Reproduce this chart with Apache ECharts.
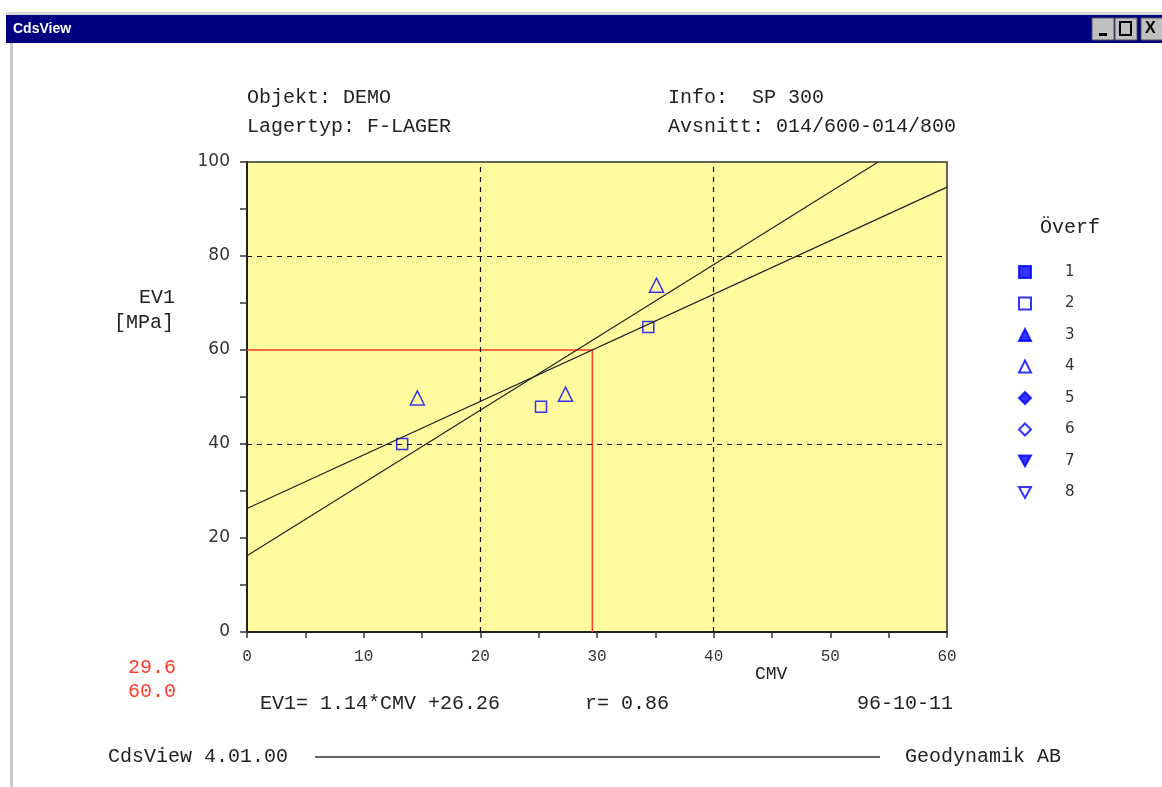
<!DOCTYPE html>
<html>
<head>
<meta charset="utf-8">
<title>CdsView</title>
<script src="https://cdn.jsdelivr.net/npm/echarts@6/dist/echarts.min.js"></script>
<style>
  html, body { margin: 0; padding: 0; background: #fff; }
  #chart { width: 1162px; height: 787px; }
</style>
</head>
<body>
<div id="chart"></div>
<script>
// measured points (CMV, EV1)
const openSquares = [[13.3, 40.0], [25.2, 47.9], [34.4, 64.9]];
const openTriangles = [[14.6, 49.8], [27.3, 50.6], [35.1, 73.8]];
// regression lines
const regLine1 = [[0, 26.26], [60, 94.66]];
const regLine2 = [[0, 16.2], [54.1, 100]];
// red marker path (read-off point)
const readOff = [[0, 60], [29.6, 60], [29.6, 0]];
const gridX = [20, 40];
const gridY = [40, 80];
const legendNames = ['1', '2', '3', '4', '5', '6', '7', '8'];

const MONO = '"Liberation Mono", "DejaVu Sans Mono", monospace';
const SANS = '"DejaVu Sans", "Liberation Sans", sans-serif';
const BLUE = '#0000ff';
const downTri = 'path://M0,0 L10,0 L5,9 Z';

const chart = echarts.init(document.getElementById('chart'));

function txt(x, y, s, opts) {
  return {
    type: 'text', x: x, y: y, silent: true,
    style: Object.assign({
      text: s, fill: '#222', font: '20px ' + MONO,
      textVerticalAlign: 'middle'
    }, opts || {})
  };
}

const solid = (c) => ({ color: c, borderColor: BLUE, borderWidth: 1 });
const hollow = { color: 'transparent', borderColor: BLUE, borderWidth: 1.5 };
const icons = ['rect', 'rect', 'triangle', 'triangle', 'diamond', 'diamond', downTri, downTri];

const option = {
  animation: false,
  backgroundColor: '#fff',
  grid: {
    left: 247, top: 162, right: 215, bottom: 155,
    show: true, backgroundColor: '#fffb9e',
    borderColor: '#333', borderWidth: 1.5
  },
  xAxis: {
    type: 'value', min: 0, max: 60, interval: 5,
    axisLine: { show: true, onZero: false, lineStyle: { color: '#222', width: 2 } },
    axisTick: { show: true, length: 6, lineStyle: { color: '#333', width: 1.5 } },
    axisLabel: {
      margin: 17, color: '#333', fontFamily: MONO, fontSize: 16,
      formatter: v => (v % 10 === 0 ? String(v) : '')
    },
    splitLine: { show: false }
  },
  yAxis: {
    type: 'value', min: 0, max: 100, interval: 10,
    axisLine: { show: true, onZero: false, lineStyle: { color: '#222', width: 2 } },
    axisTick: { show: true, length: 7, lineStyle: { color: '#333', width: 1.5 } },
    axisLabel: {
      margin: 17, color: '#333', fontFamily: SANS, fontSize: 17,
      formatter: v => (v % 20 === 0 ? String(v) : '')
    },
    splitLine: { show: false }
  },
  legend: {
    orient: 'vertical', left: 1013, top: 258,
    itemWidth: 12, itemHeight: 12, itemGap: 13.5,
    selectedMode: false,
    data: legendNames.map((n, i) => ({ name: n, icon: icons[i] })),
    textStyle: {
      fontFamily: SANS, fontSize: 15, color: '#333', lineHeight: 18,
      padding: [0, 0, 0, 29]
    }
  },
  series: [
    {
      name: 'grid', type: 'line', data: [], silent: true,
      markLine: {
        symbol: 'none', silent: true, label: { show: false },
        lineStyle: { color: '#111', type: [5, 5], width: 1.2 },
        data: gridX.map(v => ({ xAxis: v })).concat(gridY.map(v => ({ yAxis: v })))
      }
    },
    {
      name: 'readoff', type: 'line', data: readOff, showSymbol: false, silent: true,
      lineStyle: { color: '#ff3a2a', width: 1.5 }
    },
    {
      name: 'reg1', type: 'line', data: regLine1, showSymbol: false, silent: true,
      lineStyle: { color: '#222', width: 1.2 }
    },
    {
      name: 'reg2', type: 'line', data: regLine2, showSymbol: false, silent: true,
      lineStyle: { color: '#222', width: 1.2 }
    },
    { name: '1', type: 'scatter', symbol: icons[0], symbolSize: 11, data: [], itemStyle: solid(BLUE) },
    { name: '2', type: 'scatter', symbol: icons[1], symbolSize: 11, data: openSquares, itemStyle: hollow },
    { name: '3', type: 'scatter', symbol: icons[2], symbolSize: 13, data: [], itemStyle: solid(BLUE) },
    { name: '4', type: 'scatter', symbol: icons[3], symbolSize: 14, data: openTriangles, itemStyle: hollow },
    { name: '5', type: 'scatter', symbol: icons[4], symbolSize: 13, data: [], itemStyle: solid(BLUE) },
    { name: '6', type: 'scatter', symbol: icons[5], symbolSize: 13, data: [], itemStyle: hollow },
    { name: '7', type: 'scatter', symbol: icons[6], symbolSize: 13, data: [], itemStyle: solid(BLUE) },
    { name: '8', type: 'scatter', symbol: icons[7], symbolSize: 13, data: [], itemStyle: hollow }
  ],
  graphic: [
    // window frame
    { type: 'rect', shape: { x: 6, y: 12, width: 1160, height: 3 }, style: { fill: '#d8d8d8' }, silent: true },
    { type: 'rect', shape: { x: 6, y: 15, width: 1160, height: 28 }, style: { fill: '#000080' }, silent: true },
    { type: 'rect', shape: { x: 10, y: 43, width: 3, height: 750 }, style: { fill: '#c8c8c8' }, silent: true },
    txt(13, 29, 'CdsView', { fill: '#fff', font: 'bold 14px "Liberation Sans Narrow", "Liberation Sans", sans-serif' }),
    { type: 'rect', shape: { x: 1092, y: 18, width: 22, height: 22 }, style: { fill: '#c0c0c0', stroke: '#555', lineWidth: 1 }, silent: true },
    { type: 'rect', shape: { x: 1099, y: 33, width: 8, height: 3 }, style: { fill: '#000' }, silent: true },
    { type: 'rect', shape: { x: 1115, y: 18, width: 22, height: 22 }, style: { fill: '#c0c0c0', stroke: '#555', lineWidth: 1 }, silent: true },
    { type: 'rect', shape: { x: 1120, y: 22, width: 11, height: 13 }, style: { fill: 'none', stroke: '#000', lineWidth: 2 }, silent: true },
    { type: 'rect', shape: { x: 1141, y: 18, width: 24, height: 22 }, style: { fill: '#c0c0c0', stroke: '#555', lineWidth: 1 }, silent: true },
    txt(1145, 29, 'X', { font: 'bold 16px "Liberation Sans", sans-serif', fill: '#000' }),
    // header
    txt(247, 98, 'Objekt: DEMO'),
    txt(247, 127, 'Lagertyp: F-LAGER'),
    txt(668, 98, 'Info:  SP 300'),
    txt(668, 127, 'Avsnitt: 014/600-014/800'),
    // axis names
    txt(175, 298, 'EV1', { textAlign: 'right' }),
    txt(174, 323, '[MPa]', { textAlign: 'right' }),
    txt(755, 674, 'CMV', { font: '18px ' + MONO }),
    txt(1040, 228, 'Överf'),
    // red read-off values
    txt(176, 668, '29.6', { textAlign: 'right', fill: '#ff3a2a' }),
    txt(176, 692, '60.0', { textAlign: 'right', fill: '#ff3a2a' }),
    // regression text
    txt(260, 704, 'EV1= 1.14*CMV +26.26'),
    txt(585, 704, 'r= 0.86'),
    txt(953, 704, '96-10-11', { textAlign: 'right' }),
    // footer
    txt(108, 757, 'CdsView 4.01.00'),
    { type: 'line', shape: { x1: 315, y1: 757, x2: 880, y2: 757 }, style: { stroke: '#333', lineWidth: 1.5 }, silent: true },
    txt(905, 757, 'Geodynamik AB')
  ]
};

chart.setOption(option);
window.addEventListener('resize', () => chart.resize());
</script>
</body>
</html>
